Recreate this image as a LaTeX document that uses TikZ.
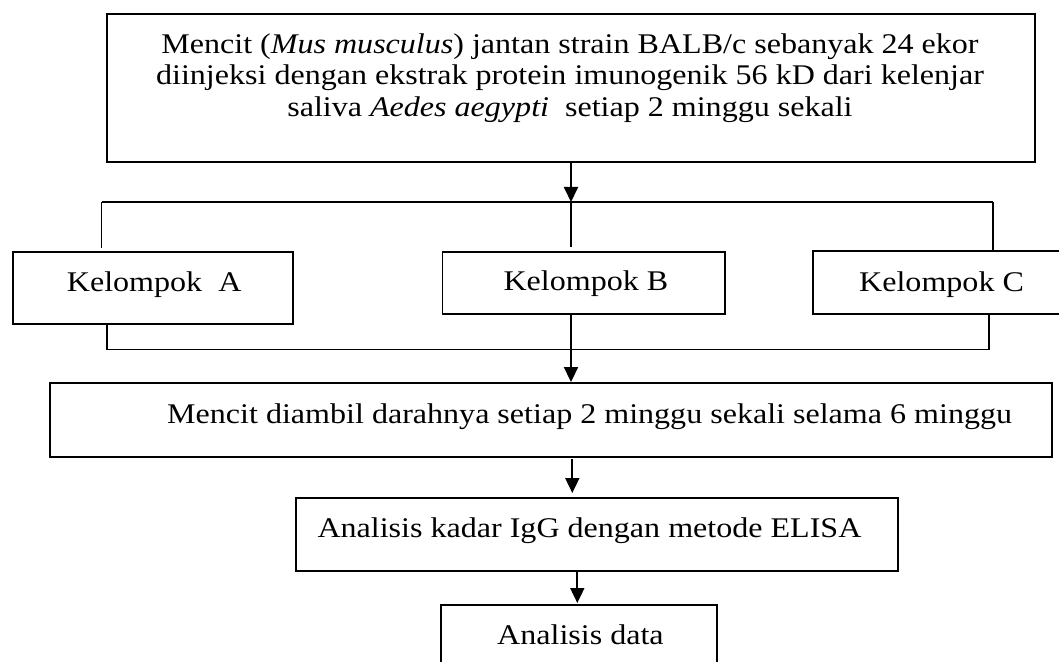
\documentclass[tikz,border=0pt]{standalone}
\usepackage{fontspec}
\setmainfont{Liberation Serif}[FakeStretch=1.125]
\usetikzlibrary{arrows.meta}

\begin{document}
\begin{tikzpicture}[x=1bp,y=-1bp,
  box/.style={draw, line width=1.9bp, inner sep=0pt},
  lbl/.style={inner sep=0pt, font=\fontsize{28.6}{31.8}\selectfont},
  arr/.style={-{Triangle[length=15bp,width=14bp]}, line width=1.9bp},
  link/.style={line width=1.9bp}]
\useasboundingbox (0,0) rectangle (1059,662);
\clip (0,0) rectangle (1059,662);
\fill[white] (0,0) rectangle (1059,662);

% boxes
\node[box, minimum width=928bp, minimum height=148bp] (top) at (571,88) {};
\node[box, minimum width=280bp, minimum height=72bp] (A) at (153,288) {};
\node[box, minimum width=282.5bp, minimum height=62bp] (B) at (583.75,283) {};
\node[box, minimum width=267bp, minimum height=63bp] (C) at (946.5,282.5) {};
\node[box, minimum width=1002bp, minimum height=74bp] (M) at (551,420) {};
\node[box, minimum width=602bp, minimum height=73bp] (E) at (597,534.5) {};
\node[box, minimum width=276bp, minimum height=95bp] (D) at (579,652.5) {};

% texts
\node[lbl, anchor=base] (t1) at (570,53.3) {Mencit (\textit{Mus musculus}) jantan strain BALB/c sebanyak 24 ekor};
\node[lbl, anchor=base] (t2) at (570,85) {diinjeksi dengan ekstrak protein imunogenik 56 kD dari kelenjar};
\node[lbl, anchor=base] (t3) at (570,116.7) {saliva \textit{Aedes aegypti}\ \ setiap 2 minggu sekali};
\node[lbl, anchor=base west] (tA) at (66.7,291.5) {Kelompok\ \ A};
\node[lbl, anchor=base west] (tB) at (503.3,290.7) {Kelompok B};
\node[lbl, anchor=base west] (tC) at (859,291.5) {Kelompok C};
\node[lbl, anchor=base west] (tM) at (167,423) {Mencit diambil darahnya setiap 2 minggu sekali selama 6 minggu};
\node[lbl, anchor=base west] (tE) at (317.3,537.3) {Analisis kadar IgG dengan metode ELISA};
\node[lbl, anchor=base west] (tD) at (497,644) {Analisis data};

% junctions
\coordinate (j1) at (571,202);
\coordinate (jA) at (101.5,202);
\coordinate (jC) at (993,202);
\coordinate (jAe) at (101.5,248);
\coordinate (j1e) at (571,247);
\coordinate (kA) at (107,349.5);
\coordinate (k1) at (571,349.5);
\coordinate (kC) at (989,349.5);
\coordinate (a3s) at (572.3,459);
\coordinate (a3e) at (572.3,493);
\coordinate (a4s) at (577.3,571.5);
\coordinate (a4e) at (577.3,603);

% connectors
\draw[arr] (top.south) -- (j1);
\draw[link] (jA) -- (jC);
\draw[link] (jA) -- (jAe);
\draw[link] (j1) -- (j1e);
\draw[link] (jC) -- (jC |- C.north);
\draw[link] (A.south -| kA) -- (kA) -- (kC) -- (C.south -| kC);
\draw[link] (B.south -| k1) -- (k1);
\draw[arr] (k1) -- (M.north -| k1);
\draw[arr] (a3s) -- (a3e);
\draw[arr] (a4s) -- (a4e);
\end{tikzpicture}
\end{document}
